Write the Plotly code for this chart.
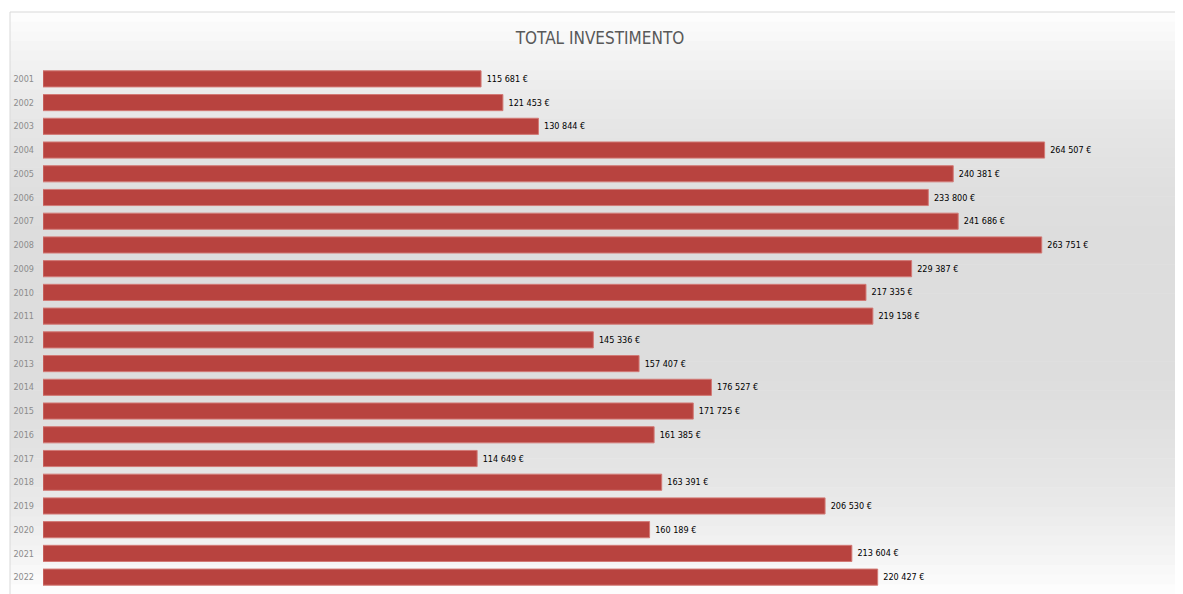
import plotly.graph_objects as go

# dati
anni = ["2001", "2002", "2003", "2004", "2005", "2006", "2007", "2008", "2009", "2010", "2011",
        "2012", "2013", "2014", "2015", "2016", "2017", "2018", "2019", "2020", "2021", "2022"]
investimento = [115681, 121453, 130844, 264507, 240381, 233800, 241686, 263751, 229387, 217335, 219158,
                145336, 157407, 176527, 171725, 161385, 114649, 163391, 206530, 160189, 213604, 220427]
etichette = ["\u00a0" + f"{v:,}".replace(",", " ") + " €" for v in investimento]

FONT = "DejaVu Sans Condensed, Liberation Sans, Roboto, sans-serif"

# la pagina ha un margine di 8px: la figura parte da (8, 8)
OFF = 8
W, H = 1183 - OFF, 594 - OFF
ML, MR, MT, MB = 43 - OFF, 4, 67 - OFF, 5
pw, ph = W - ML - MR, H - MT - MB

def px_x(p):
    return (p - OFF - ML) / pw

def px_y(p):
    return 1 - (p - OFF - MT) / ph

fig = go.Figure()
fig.add_trace(go.Bar(
    x=investimento, y=anni, orientation="h",
    text=etichette, textposition="outside", cliponaxis=False,
    textfont=dict(family=FONT, size=9, color="#000000"),
    marker=dict(color="#b8433f", line=dict(color="#d27a76", width=1)),
    width=0.68,
))

# sfondo sfumato (bianco -> grigio -> bianco)
shapes = []
n = 60
for i in range(n):
    t = (i + 0.5) / n
    g = 1 - 4 * t * (1 - t)
    c = int(221 + (255 - 221) * g ** 1.3)
    y0 = 12 + (594 - 12) * i / n
    y1 = 12 + (594 - 12) * (i + 1) / n
    shapes.append(dict(type="rect", xref="paper", yref="paper", layer="below",
                       x0=px_x(10), x1=px_x(1183), y0=px_y(y1 + 0.5), y1=px_y(y0),
                       fillcolor=f"rgb({c},{c},{c})", line=dict(width=0)))
# cornice
shapes.append(dict(type="line", xref="paper", yref="paper", x0=px_x(10), x1=px_x(1183),
                   y0=px_y(12), y1=px_y(12), line=dict(color="#d9d9d9", width=1)))
shapes.append(dict(type="line", xref="paper", yref="paper", x0=px_x(10), x1=px_x(10),
                   y0=px_y(12), y1=px_y(594), line=dict(color="#d9d9d9", width=1)))

fig.update_layout(
    width=W, height=H,
    margin=dict(l=ML, r=MR, t=MT, b=MB),
    paper_bgcolor="white", plot_bgcolor="rgba(0,0,0,0)",
    shapes=shapes,
    showlegend=False,
    title=dict(text="TOTAL INVESTIMENTO", x=px_x(600), xanchor="center", xref="paper",
               y=1 - (38 - OFF) / H, yanchor="middle",
               font=dict(family=FONT, size=17, color="#595959")),
    xaxis=dict(range=[0, 300000], visible=False),
    yaxis=dict(autorange="reversed", showgrid=False, zeroline=False, ticks="",
               tickfont=dict(family=FONT, size=9, color="#8c8c8c"),
               ticklabelstandoff=8),
)

fig.write_html("out.html")
